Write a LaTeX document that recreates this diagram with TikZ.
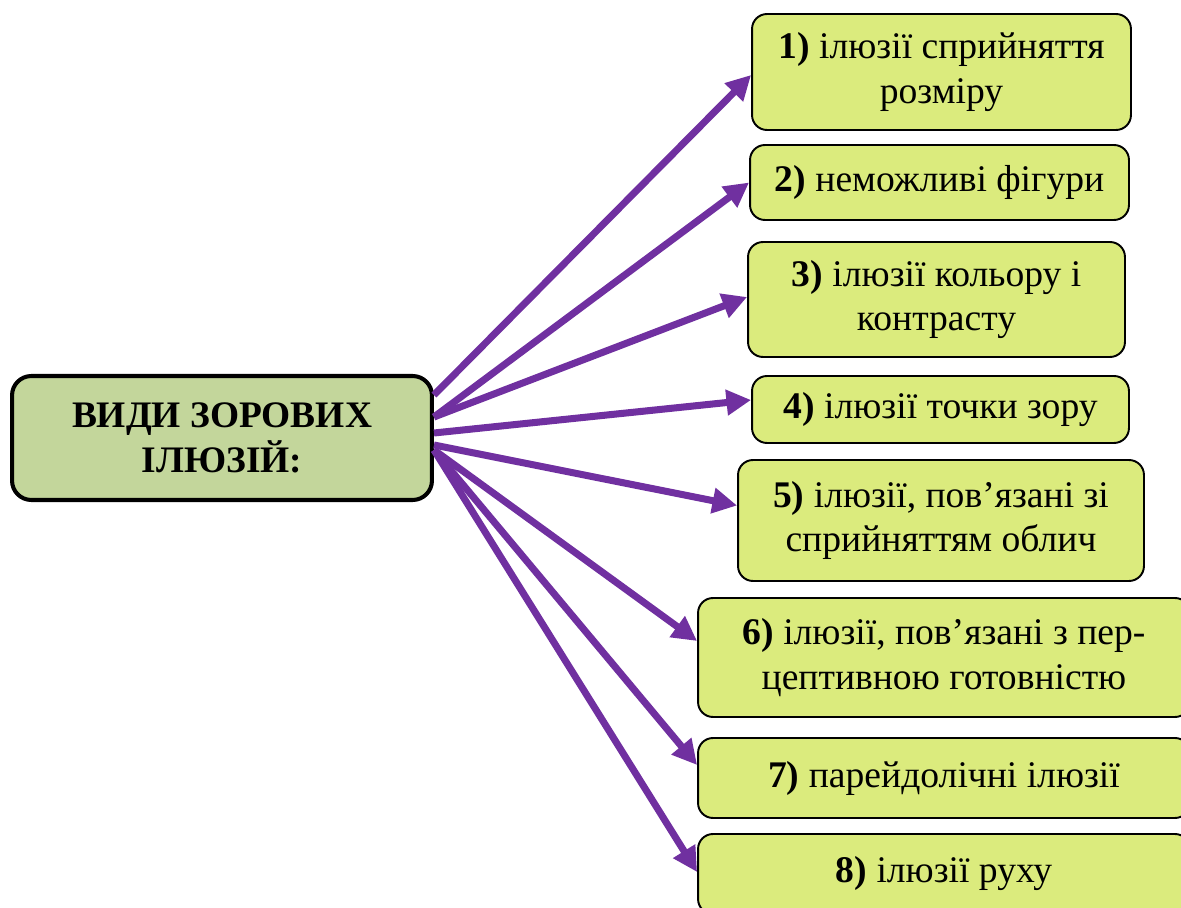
\documentclass[tikz,border=0pt]{standalone}
\usepackage{fontspec}
\setmainfont{Liberation Serif}
\usetikzlibrary{arrows.meta}

\definecolor{headfill}{HTML}{C3D69B}
\definecolor{itemfill}{HTML}{DBEB7D}
\definecolor{arrowviolet}{HTML}{7030A0}

\begin{document}
\begin{tikzpicture}[
x=0.02cm, y=-0.02cm,
every node/.style={font=\fontsize{21.4}{25.5}\selectfont},
headbox/.style={
    draw,
    line width=2.3pt,
    rounded corners=11pt,
    fill=headfill,
    align=center,
    font=\fontsize{21.3}{25.5}\selectfont\bfseries
},
itembox/.style={
    draw,
    line width=1.1pt,
    rounded corners=8.5pt,
    fill=itemfill,
    align=center,
    inner sep=0pt
},
link/.style={-{Triangle[length=14pt,width=14pt]}, line width=4pt, arrowviolet}
]

% frame of the page
\path[use as bounding box, clip] (0,0) rectangle (1181,908);

% =====================================================
% Main box
% =====================================================
\node[headbox, minimum width=8.4cm, minimum height=2.48cm] (head) at (222,438)
{ВИДИ ЗОРОВИХ\\ІЛЮЗІЙ:};

% =====================================================
% Kinds of illusions
% =====================================================
\node[itembox, minimum width=7.58cm, minimum height=2.32cm] (b1) at (941.5,72)
{\textbf{1)} ілюзії сприйняття\\розміру};
\node[itembox, minimum width=7.58cm, minimum height=1.5cm] (b2) at (939.5,182.5)
{\textbf{2)} неможливі фігури};
\node[itembox, minimum width=7.54cm, minimum height=2.3cm] (b3) at (936.5,299.5)
{\textbf{3)} ілюзії кольору і\\контрасту};
\node[itembox, minimum width=7.54cm, minimum height=1.34cm] (b4) at (940.5,409.5)
{\textbf{4)} ілюзії точки зору};
\node[itembox, minimum width=8.12cm, minimum height=2.42cm] (b5) at (941,520.5)
{\textbf{5)} ілюзії, пов’язані зі\\сприйняттям облич};
\node[itembox, minimum width=9.84cm, minimum height=2.38cm] (b6) at (944,657.5)
{\textbf{6)} ілюзії, пов’язані з пер-\\цептивною готовністю};
\node[itembox, minimum width=9.84cm, minimum height=1.6cm] (b7) at (944,778)
{\textbf{7)} парейдолічні ілюзії};
\node[itembox, minimum width=9.84cm, minimum height=1.6cm] (b8) at (944,874)
{\textbf{8)} ілюзії руху};

% Arrows from the main box
\foreach \b/\s/\e in {b1/0.86/-0.06, b2/0.42/0, b3/0.42/0.05, b4/0.1/0.19,
                      b5/-0.14/0.3, b6/-0.24/0.33, b7/-0.24/0.26, b8/-0.24/0.04}{
\draw[link] ([yshift=\s cm]head.east) -- ([yshift=\e cm]\b.west);
}

\end{tikzpicture}
\end{document}
